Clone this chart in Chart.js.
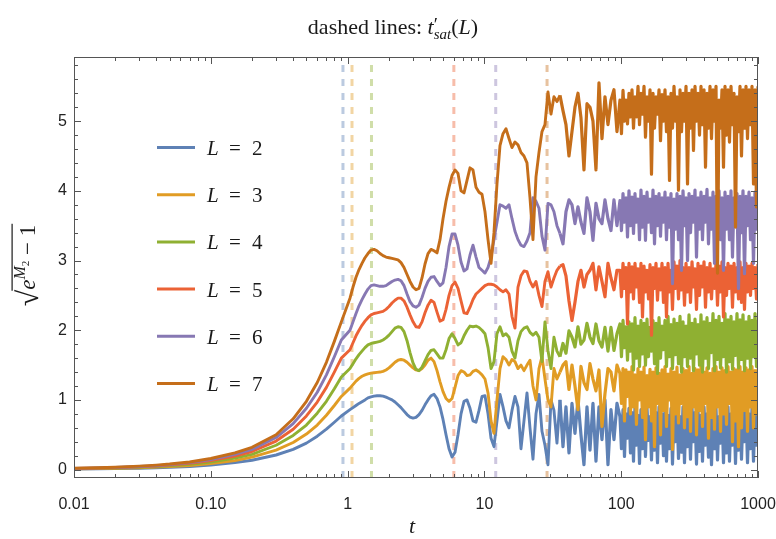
<!DOCTYPE html>
<html>
<head>
<meta charset="utf-8">
<title>dashed lines: t'sat(L)</title>
<script src="https://cdn.jsdelivr.net/npm/chart.js@4.4.0/dist/chart.umd.min.js"></script>
<style>
  body { margin: 0; background: #ffffff; }
  canvas { display: block; }
</style>
</head>
<body>
<canvas id="myChart" width="776" height="539"></canvas>
<script>
//tiempos t de la simulacion (eje x logaritmico), mas densos donde hay ruido
const tiempos = [
  0.01, 0.015, 0.02, 0.03, 0.04, 0.05, 0.07, 0.1, 0.15, 0.2, 0.3, 0.4, 0.5, 0.6, 0.7, 0.8, 0.9,
  1.041, 1.095, 1.152, 1.212, 1.274, 1.34, 1.409, 1.483, 1.56, 1.64, 1.725, 1.815, 1.909, 2.008, 2.112, 2.221, 2.336,
  2.457, 2.585, 2.719, 2.859, 3.008, 3.162, 3.326, 3.499, 3.68, 3.871, 4.072, 4.282, 4.504, 4.738, 4.983, 5.241,
  5.513, 5.799, 6.1, 6.413, 6.746, 7.096, 7.463, 7.848, 8.254, 8.683, 9.132, 9.604, 10.1, 10.63, 11.18, 11.75, 12.36, 13.0,
  13.68, 14.38, 15.13, 15.91, 16.73, 17.6, 18.51, 19.47, 20.48, 21.54, 22.65, 23.83, 25.06, 26.36, 27.72, 29.16,
  30.67, 32.25, 33.92, 35.68, 37.53, 39.47, 41.52, 43.67, 45.93, 48.31, 50.81, 53.44, 56.21, 59.12, 62.18, 65.4,
  68.79, 72.35, 76.1, 80.04, 84.18, 88.54, 93.13,
  97.95, 100.45, 103.1, 105.7, 108.4, 111.2, 114.0, 116.9, 119.9, 123.0, 126.1, 129.3, 132.7, 136.1, 139.5, 143.1,
  146.8, 150.5, 154.4, 158.3, 162.4, 166.5, 170.8, 175.2, 179.6, 184.2, 189.0, 193.8, 198.7, 203.8, 209.0, 214.3,
  219.9, 225.5, 231.2, 237.1, 243.2, 249.4, 255.8, 262.3, 269.1, 276.0, 283.0, 290.2, 297.7, 305.3, 313.1, 321.1,
  329.3, 337.7, 346.3, 355.2, 364.3, 373.6, 383.1, 392.9, 403.0, 413.3, 423.8, 434.6, 445.8, 457.2, 468.9, 480.9,
  493.2, 505.8, 518.7, 532.0, 545.6, 559.5, 573.8, 588.5, 603.5, 618.9, 634.8, 651.0, 667.7, 684.8, 702.2, 720.2,
  738.6, 757.5, 776.8, 796.7, 817.1, 838.0, 859.4, 881.4, 903.9, 927.0, 950.7, 975.0, 1000
];

//valores de sqrt(e^M2 - 1) para cada L
const serieL2 = [
  0.01, 0.012, 0.015, 0.02, 0.026, 0.032, 0.045, 0.065, 0.1, 0.135, 0.21, 0.29, 0.38, 0.48, 0.58, 0.68, 0.77,
  0.86, 0.89, 0.92, 0.95, 0.975, 1.0, 1.03, 1.045, 1.055, 1.06, 1.06, 1.055, 1.04, 1.02, 1.0, 0.97, 0.93, 0.89, 0.84, 0.79,
  0.755, 0.74, 0.75, 0.79, 0.85, 0.93, 1.0, 1.06, 1.08, 1.02, 0.9, 0.72, 0.5, 0.3, 0.18, 0.25, 0.5, 0.8, 0.98, 1.0,
  0.88, 0.7, 0.68, 0.85, 1.05, 1.06, 0.8, 0.45, 0.33, 0.7, 1.08,
  0.9, 0.7, 0.6, 0.85, 1.05, 0.9, 0.3, 0.7, 1.1, 0.6, 0.15, 0.8, 1.08, 0.55, 0.35, 0.07, 1.0, 0.85, 0.38, 1.0,
  0.33, 0.9, 0.24, 0.95, 0.52, 1.0, 0.5, 0.07, 0.9, 0.28, 0.95, 0.12, 0.9, 0.43, 1.0, 0.07, 0.86, 0.43, 0.95,
  0.76, 0.3, 0.86, 0.19, 0.8, 0.45, 0.88, 0.24, 0.82, 0.12, 0.9, 0.35, 0.78, 0.09, 0.86, 0.3, 0.8, 0.19, 0.88, 0.42,
  0.76, 0.14, 0.86, 0.28, 0.82, 0.1, 0.9, 0.38, 0.8, 0.2, 0.86, 0.12, 0.78, 0.3, 0.88, 0.08, 0.82, 0.4, 0.86, 0.16,
  0.76, 0.25, 0.9, 0.1, 0.84, 0.33, 0.8, 0.15, 0.88, 0.4, 0.82, 0.08, 0.86, 0.26, 0.78, 0.12, 0.9, 0.35, 0.8, 0.18,
  0.86, 0.07, 0.82, 0.3, 0.88, 0.14, 0.76, 0.38, 0.86, 0.1, 0.84, 0.24, 0.9, 0.12, 0.8, 0.35, 0.86, 0.09, 0.78, 0.28,
  0.88, 0.15, 0.82, 0.4, 0.86, 0.1, 0.8, 0.3, 0.88, 0.12, 0.82, 0.35, 0.86
];
const serieL3 = [
  0.012, 0.016, 0.02, 0.028, 0.036, 0.044, 0.06, 0.088, 0.13, 0.18, 0.28, 0.39, 0.51, 0.64, 0.78, 0.92, 1.05,
  1.17, 1.22, 1.27, 1.31, 1.34, 1.36, 1.375, 1.385, 1.39, 1.395, 1.4, 1.41, 1.43, 1.46, 1.5, 1.54, 1.57, 1.58, 1.57, 1.54,
  1.5, 1.46, 1.43, 1.42, 1.45, 1.5, 1.57, 1.6, 1.55, 1.42, 1.26, 1.12, 1.02, 0.98, 1.02, 1.18, 1.35, 1.42, 1.4, 1.35,
  1.36, 1.41, 1.43, 1.4, 1.36, 1.3, 1.1, 0.7, 0.52, 1.0, 1.45,
  1.62, 1.58, 1.5, 1.58, 1.55, 1.45, 1.5, 1.42, 1.5, 1.57, 1.2, 1.0, 1.45, 1.62, 1.3, 1.0, 0.9, 1.45, 1.3, 1.4,
  1.5, 1.55, 1.15, 1.5, 1.2, 0.86, 1.48, 1.25, 1.15, 1.52, 1.3, 1.13, 1.43, 0.62, 1.09, 1.45, 1.4, 1.13, 1.5,
  1.38, 0.95, 1.45, 0.7, 1.43, 1.05, 1.4, 0.8, 1.48, 0.9, 1.36, 0.65, 1.45, 1.0, 1.4, 0.75, 1.47, 0.43, 1.35, 0.9,
  1.44, 0.7, 1.4, 0.33, 1.46, 0.95, 1.38, 0.5, 1.43, 0.85, 1.48, 0.62, 1.37, 1.0, 1.45, 0.29, 1.4, 0.8, 1.47, 0.67,
  1.36, 0.95, 1.45, 0.6, 1.42, 0.76, 1.48, 0.55, 1.38, 0.9, 1.45, 0.5, 1.43, 0.85, 1.47, 0.62, 1.4, 0.95, 1.46, 0.45,
  1.38, 0.75, 1.45, 0.58, 1.48, 0.9, 1.4, 0.55, 1.46, 0.8, 1.42, 0.65, 1.48, 0.95, 1.4, 0.4, 1.45, 0.7, 1.43, 0.33,
  1.48, 0.6, 1.4, 0.85, 1.46, 0.55, 1.43, 0.9, 1.48, 0.6, 1.42, 0.8, 1.45
];
const serieL4 = [
  0.014, 0.019, 0.024, 0.034, 0.044, 0.054, 0.075, 0.11, 0.165, 0.22, 0.35, 0.49, 0.64, 0.81, 0.98, 1.16, 1.33,
  1.45, 1.52, 1.59, 1.65, 1.7, 1.75, 1.79, 1.81, 1.82, 1.83, 1.84, 1.86, 1.89, 1.93, 1.98, 2.03, 2.05, 2.04, 1.98, 1.85,
  1.68, 1.53, 1.44, 1.42, 1.47, 1.56, 1.65, 1.71, 1.72, 1.66, 1.6, 1.6, 1.72, 1.88, 1.95, 1.88, 1.79, 1.82, 1.92, 2.0,
  2.06, 2.05, 2.06, 2.04, 2.0, 1.95, 1.75, 1.45, 1.55, 1.95, 2.05,
  1.92, 1.95, 1.9, 1.7, 1.6, 1.85, 1.98, 2.03, 2.05, 1.97, 1.93, 1.97, 1.9, 1.55, 2.12, 1.71, 1.45, 1.9, 1.7, 1.62,
  1.81, 1.67, 1.99, 1.9, 1.76, 2.05, 1.8, 1.86, 2.1, 1.9, 1.81, 2.09, 1.85, 1.76, 2.04, 1.7, 2.04, 1.71, 1.95,
  2.09, 1.62, 2.14, 1.75, 2.05, 1.57, 2.12, 1.7, 2.09, 1.43, 2.18, 1.6, 2.06, 1.48, 2.14, 1.66, 2.1, 1.5, 2.16, 1.62,
  2.04, 1.7, 2.14, 1.52, 2.1, 1.38, 2.18, 1.6, 2.06, 1.72, 2.14, 1.48, 2.2, 1.62, 2.08, 1.45, 2.16, 1.65, 2.1, 1.52,
  2.2, 1.4, 2.12, 1.62, 2.06, 1.48, 2.22, 1.6, 2.1, 1.42, 2.16, 1.66, 2.08, 1.5, 2.22, 1.4, 2.12, 1.6, 2.18, 1.45,
  2.1, 1.68, 2.24, 1.42, 2.14, 1.58, 2.2, 1.46, 2.1, 1.62, 2.24, 1.4, 2.15, 1.55, 2.2, 1.44, 2.12, 1.64, 2.24, 1.46,
  2.15, 1.58, 2.22, 1.42, 2.12, 1.6, 2.2, 1.45, 2.14, 1.62, 2.24, 1.48, 2.15
];
const serieL5 = [
  0.016, 0.022, 0.028, 0.04, 0.052, 0.064, 0.09, 0.13, 0.195, 0.26, 0.41, 0.58, 0.77, 0.97, 1.18, 1.4, 1.6,
  1.72, 1.82, 1.92, 2.0, 2.07, 2.13, 2.18, 2.22, 2.24, 2.25, 2.26, 2.27, 2.3, 2.34, 2.39, 2.43, 2.46, 2.46, 2.42, 2.33,
  2.22, 2.12, 2.05, 2.04, 2.12, 2.25, 2.36, 2.43, 2.4, 2.26, 2.13, 2.15, 2.3, 2.5, 2.64, 2.69, 2.6, 2.42, 2.25, 2.24,
  2.33, 2.44, 2.52, 2.56, 2.6, 2.64, 2.66, 2.66, 2.65, 2.62, 2.58,
  2.55, 2.58, 2.52, 2.2, 2.03, 2.62, 2.78, 2.85, 2.84, 2.7, 2.62, 2.7, 2.5, 2.34, 2.7, 2.84, 2.62, 2.75, 2.86, 2.92,
  2.94, 2.78, 2.42, 2.14, 2.4, 2.7, 2.86, 2.62, 2.8, 2.86, 2.96, 2.58, 2.91, 2.7, 2.48, 2.96, 2.75, 2.58, 2.86,
  2.86, 2.48, 2.96, 2.6, 2.9, 2.09, 2.96, 2.55, 2.91, 2.45, 2.96, 2.62, 2.88, 2.4, 2.96, 2.19, 2.92, 2.55, 2.86, 2.45,
  2.94, 1.93, 2.9, 2.6, 2.96, 2.43, 2.88, 2.58, 2.96, 2.4, 2.9, 2.19, 2.96, 2.55, 2.86, 2.3, 2.98, 2.6, 2.92, 2.45,
  3.0, 2.58, 2.9, 2.36, 2.96, 2.55, 2.9, 2.4, 2.98, 2.62, 2.88, 2.3, 2.96, 2.5, 2.92, 2.62, 2.98, 2.33, 2.9, 2.55,
  2.96, 2.45, 2.88, 2.6, 2.96, 2.36, 2.92, 2.55, 2.98, 2.19, 2.9, 2.5, 2.96, 2.6, 2.92, 2.33, 2.96, 2.55, 2.9, 2.45,
  2.98, 2.4, 2.9, 2.3, 2.96, 2.55, 2.92, 2.5, 2.96, 2.6, 2.9, 2.45, 2.95
];
const serieL6 = [
  0.018, 0.025, 0.031, 0.045, 0.058, 0.072, 0.1, 0.145, 0.22, 0.29, 0.46, 0.66, 0.88, 1.11, 1.36, 1.62, 1.86,
  2.0, 2.12, 2.24, 2.35, 2.44, 2.52, 2.59, 2.64, 2.65, 2.64, 2.63, 2.63, 2.64, 2.67, 2.7, 2.72, 2.73, 2.71, 2.64, 2.52,
  2.41, 2.35, 2.33, 2.36, 2.47, 2.6, 2.7, 2.76, 2.77, 2.7, 2.64, 2.68, 2.9, 3.2, 3.38, 3.38, 3.22, 2.98, 2.85, 2.88,
  3.08, 3.22, 3.05, 2.9, 2.86, 2.82, 2.9, 3.05, 3.3, 3.55, 3.8,
  3.78, 3.75, 3.8, 3.6, 3.42, 3.3, 3.22, 3.2, 3.28, 3.4, 3.9, 3.85, 3.75, 3.35, 3.15, 3.82, 3.8, 3.7, 3.5, 3.39,
  3.24, 3.7, 3.87, 3.8, 3.53, 3.77, 3.55, 3.39, 3.9, 3.7, 3.29, 3.82, 3.6, 3.53, 3.87, 3.6, 3.43, 3.87, 3.5,
  3.86, 3.43, 3.96, 3.55, 3.9, 3.34, 4.0, 3.5, 3.91, 3.39, 3.96, 3.55, 3.88, 3.3, 4.01, 3.48, 3.92, 3.29, 3.98, 3.55,
  3.88, 3.4, 4.01, 3.24, 3.92, 3.5, 3.96, 3.35, 3.9, 3.55, 3.98, 3.3, 3.9, 3.48, 3.96, 2.67, 3.88, 3.45, 3.96, 3.3,
  3.92, 2.86, 4.0, 3.5, 3.9, 3.0, 3.96, 3.4, 3.92, 3.55, 4.01, 3.05, 3.9, 3.45, 3.98, 3.3, 3.92, 3.55, 4.02, 3.24,
  3.9, 3.45, 3.98, 2.96, 3.92, 3.5, 4.0, 3.3, 3.9, 2.86, 3.98, 3.45, 3.92, 3.3, 4.0, 3.05, 3.9, 3.5, 3.96, 2.6,
  3.92, 3.4, 4.0, 2.81, 3.92, 3.5, 3.98, 3.3, 3.9, 2.96, 3.98, 3.45, 3.8
];
const serieL7 = [
  0.02, 0.028, 0.035, 0.05, 0.065, 0.08, 0.11, 0.16, 0.24, 0.32, 0.5, 0.73, 0.98, 1.25, 1.54, 1.84, 2.12,
  2.46, 2.62, 2.76, 2.87, 2.96, 3.04, 3.1, 3.15, 3.16, 3.14, 3.1, 3.07, 3.05, 3.04, 3.03, 3.02, 3.01, 2.97, 2.9, 2.8,
  2.7, 2.62, 2.58, 2.6, 2.75, 2.95, 3.1, 3.16, 3.14, 3.11, 3.3, 3.6, 3.85, 4.05, 4.22, 4.3, 4.25, 4.0, 3.97, 4.15,
  4.33, 4.3, 4.05, 3.98, 3.95, 3.7, 3.3, 2.96, 3.4, 4.1, 4.65,
  4.82, 4.89, 4.75, 4.62, 4.7, 4.66, 4.55, 4.5, 4.4, 3.9, 3.3, 4.2, 4.55, 4.85, 4.95, 5.42, 5.1, 5.35, 5.28, 5.37,
  5.15, 4.95, 4.5, 4.85, 5.2, 5.4, 5.05, 4.3, 5.25, 5.2, 5.0, 4.3, 5.55, 4.75, 5.35, 4.95, 5.3, 5.45, 4.85,
  5.3, 4.82, 5.44, 5.0, 5.3, 4.96, 5.4, 5.06, 5.45, 4.9, 5.35, 5.06, 5.5, 4.95, 5.4, 5.1, 5.5, 4.77, 5.35, 5.0,
  5.45, 4.24, 5.4, 4.9, 5.35, 5.1, 5.45, 4.72, 5.38, 5.0, 5.45, 4.85, 5.35, 4.15, 5.4, 4.9, 5.5, 5.0, 5.35, 4.01,
  5.45, 4.85, 5.4, 5.0, 5.5, 4.1, 5.4, 4.9, 5.45, 4.58, 5.5, 5.0, 5.4, 4.8, 5.5, 4.95, 5.45, 4.34, 5.4, 4.9,
  5.5, 4.75, 5.45, 5.0, 5.5, 2.82, 5.3, 4.9, 5.45, 4.34, 5.5, 4.8, 5.45, 4.7, 5.5, 4.95, 5.4, 3.48, 5.35, 4.85,
  5.5, 4.5, 5.45, 4.9, 5.5, 4.75, 5.45, 4.95, 5.5, 4.1, 5.45, 3.77, 5.5
];

const valoresL = [2, 3, 4, 5, 6, 7]; //tamanos L de cada curva
const tSat = [0.925, 1.077, 1.495, 5.98, 12.1, 28.7]; //t'sat(L), lineas punteadas
const marcasX = [0.01, 0.1, 1, 10, 100, 1000]; //marcas principales eje x
const etiquetasX = ["0.01", "0.10", "1", "10", "100", "1000"];
const marcasY = [0, 1, 2, 3, 4, 5]; //marcas principales eje y

const series = [serieL2, serieL3, serieL4, serieL5, serieL6, serieL7];
const colores = ["#5E81B5", "#E19C24", "#8FB032", "#EB6235", "#8778B3", "#C56E1A"];
const coloresTenues = [
  "rgba(94,129,181,0.42)", "rgba(225,156,36,0.42)", "rgba(143,176,50,0.42)",
  "rgba(235,98,53,0.42)", "rgba(135,120,179,0.42)", "rgba(197,110,26,0.42)"
];
const yMin = -0.12;
const yMax = 5.92;
const serif = "'Liberation Serif', 'DejaVu Serif', serif";

//curvas, la de L mas grande queda arriba; en la zona ruidosa el trazo es algo mas grueso
const datasetsCurvas = series.map((valores, i) => ({
  label: "L = " + valoresL[i],
  data: tiempos.map((t, j) => ({ x: t, y: valores[j] })),
  borderColor: colores[i],
  borderWidth: 2.9,
  borderJoinStyle: "round",
  pointRadius: 0,
  tension: 0,
  order: 10 - i,
  segment: {
    borderWidth: (s) => (s.p0.parsed.x >= 35 ? 3.2 : 2.9),
  },
}));

//lineas verticales punteadas en t'sat(L)
const datasetsTrazos = tSat.map((t, i) => ({
  label: "tsat L = " + valoresL[i],
  data: [{ x: t, y: yMin }, { x: t, y: yMax }],
  borderColor: coloresTenues[i],
  borderWidth: 3,
  borderDash: [7, 7],
  pointRadius: 0,
  order: 20 + i,
}));

//dibuja trozos de texto seguidos (normal, cursiva, sub y superindices)
function dibujarTrozos(ctx, trozos, x, y, alinear) {
  let ancho = 0;
  let prev = 0;
  trozos.forEach((tr) => {
    ctx.font = tr.font;
    tr.w = ctx.measureText(tr.text).width;
    ancho += tr.junto ? Math.max(0, tr.w - prev) : tr.w;
    prev = tr.w;
  });
  let px = alinear === "center" ? x - ancho / 2 : x;
  let anterior = 0;
  trozos.forEach((tr) => {
    ctx.font = tr.font;
    if (tr.junto) px -= anterior; //mismo x que el trozo anterior (sub bajo super)
    ctx.fillText(tr.text, px, y + (tr.dy || 0));
    px += tr.junto ? Math.max(tr.w, anterior) : tr.w;
    anterior = tr.w;
  });
  return ancho;
}

//marco con marcas hacia adentro, como en Mathematica
const marco = {
  id: "marco",
  afterDatasetsDraw(chart) {
    const { ctx, chartArea: a, scales } = chart;
    ctx.save();
    ctx.strokeStyle = "#555";
    ctx.lineWidth = 1;
    ctx.strokeRect(a.left + 0.5, a.top + 0.5, a.right - a.left - 1, a.bottom - a.top - 1);
    ctx.beginPath();
    for (let d = -2; d <= 3; d++) {
      for (let m = 1; m <= 9; m++) {
        const v = m * Math.pow(10, d);
        if (v > 1000.001) break;
        const px = Math.round(scales.x.getPixelForValue(v)) + 0.5;
        const largo = m === 1 ? 7 : 4;
        ctx.moveTo(px, a.bottom); ctx.lineTo(px, a.bottom - largo);
        ctx.moveTo(px, a.top); ctx.lineTo(px, a.top + largo);
      }
    }
    for (let k = 0; k <= 29; k++) {
      const v = k * 0.2;
      const py = Math.round(scales.y.getPixelForValue(v)) + 0.5;
      const largo = k % 5 === 0 ? 7 : 4;
      ctx.moveTo(a.left, py); ctx.lineTo(a.left + largo, py);
      ctx.moveTo(a.right, py); ctx.lineTo(a.right - largo, py);
    }
    ctx.stroke();
    ctx.restore();
  },
};

//titulo, nombres de ejes y leyenda
const textos = {
  id: "textos",
  afterDraw(chart) {
    const { ctx, chartArea: a } = chart;
    ctx.save();
    ctx.fillStyle = "#1a1a1a";
    ctx.textBaseline = "alphabetic";

    //titulo: dashed lines: t'sat(L)
    dibujarTrozos(ctx, [
      { text: "dashed lines: ", font: "22px " + serif },
      { text: "t", font: "italic 22px " + serif },
      { text: "\u2032", font: "19px " + serif, dy: -3 },
      { text: "sat", font: "italic 15px " + serif, dy: 5, junto: true },
      { text: "(", font: "22px " + serif },
      { text: "L", font: "italic 22px " + serif },
      { text: ")", font: "22px " + serif },
    ], 393, 34, "center");

    //eje x: t
    dibujarTrozos(ctx, [{ text: "t", font: "italic 22px " + serif }], (a.left + a.right) / 2 - 4, 533, "center");

    //eje y: sqrt(e^M2 - 1), rotado
    ctx.translate(35, (a.top + a.bottom) / 2 - 2);
    ctx.rotate(-Math.PI / 2);
    const partes = [
      { text: "e", font: "italic 23px " + serif },
      { text: "M", font: "italic 16px " + serif, dy: -10 },
      { text: "2", font: "11px " + serif, dy: -6 },
      { text: " \u2212 1", font: "23px " + serif },
    ];
    ctx.font = "30px " + serif;
    const anchoRaiz = ctx.measureText("\u221A").width;
    let anchoTotal = 0;
    partes.forEach((p) => { ctx.font = p.font; anchoTotal += ctx.measureText(p.text).width; });
    const x0 = -(anchoRaiz + anchoTotal) / 2;
    ctx.font = "30px " + serif;
    ctx.fillText("\u221A", x0, 3);
    dibujarTrozos(ctx, partes, x0 + anchoRaiz, 0, "left");
    ctx.fillRect(x0 + anchoRaiz - 1, -23.5, anchoTotal + 2, 1.2);
    ctx.setTransform(1, 0, 0, 1, 0, 0);

    //leyenda dentro del grafico
    datasetsCurvas.forEach((ds, i) => {
      const y = 147.5 + 47.2 * i;
      ctx.strokeStyle = ds.borderColor;
      ctx.lineWidth = 3;
      ctx.beginPath();
      ctx.moveTo(157, y);
      ctx.lineTo(195, y);
      ctx.stroke();
      ctx.font = "italic 21px " + serif;
      ctx.fillText("L", 207, y + 7.5);
      ctx.font = "21px " + serif;
      ctx.fillText("=", 229, y + 7.5);
      ctx.fillText(String(valoresL[i]), 252, y + 7.5);
    });
    ctx.restore();
  },
};

const ctx = document.getElementById("myChart").getContext("2d");
new Chart(ctx, {
  type: "line",
  data: { datasets: [...datasetsCurvas, ...datasetsTrazos] },
  options: {
    responsive: false,
    animation: false,
    layout: { padding: { top: 57, right: 18, bottom: 0, left: 0 } },
    plugins: { legend: { display: false }, tooltip: { enabled: false }, title: { display: false } },
    scales: {
      x: {
        type: "logarithmic",
        min: 0.01,
        max: 1000,
        grid: { display: false, drawTicks: false },
        border: { display: false },
        afterBuildTicks: (eje) => { eje.ticks = marcasX.map((v) => ({ value: v })); },
        afterFit: (eje) => { eje.height = 61; eje.paddingLeft = 0; eje.paddingRight = 0; },
        ticks: {
          autoSkip: false,
          maxRotation: 0,
          padding: 17,
          color: "#222",
          font: { family: "'Liberation Sans', Arial, sans-serif", size: 16 },
          callback: (v) => etiquetasX[marcasX.indexOf(v)],
        },
      },
      y: {
        type: "linear",
        min: yMin,
        max: yMax,
        grid: { display: false, drawTicks: false },
        border: { display: false },
        afterBuildTicks: (eje) => { eje.ticks = marcasY.map((v) => ({ value: v })); },
        afterFit: (eje) => { eje.width = 74; eje.paddingTop = 0; eje.paddingBottom = 0; },
        ticks: {
          padding: 7,
          color: "#222",
          font: { family: "'Liberation Sans', Arial, sans-serif", size: 16 },
          callback: (v) => String(v),
        },
      },
    },
  },
  plugins: [marco, textos],
});
</script>
</body>
</html>
